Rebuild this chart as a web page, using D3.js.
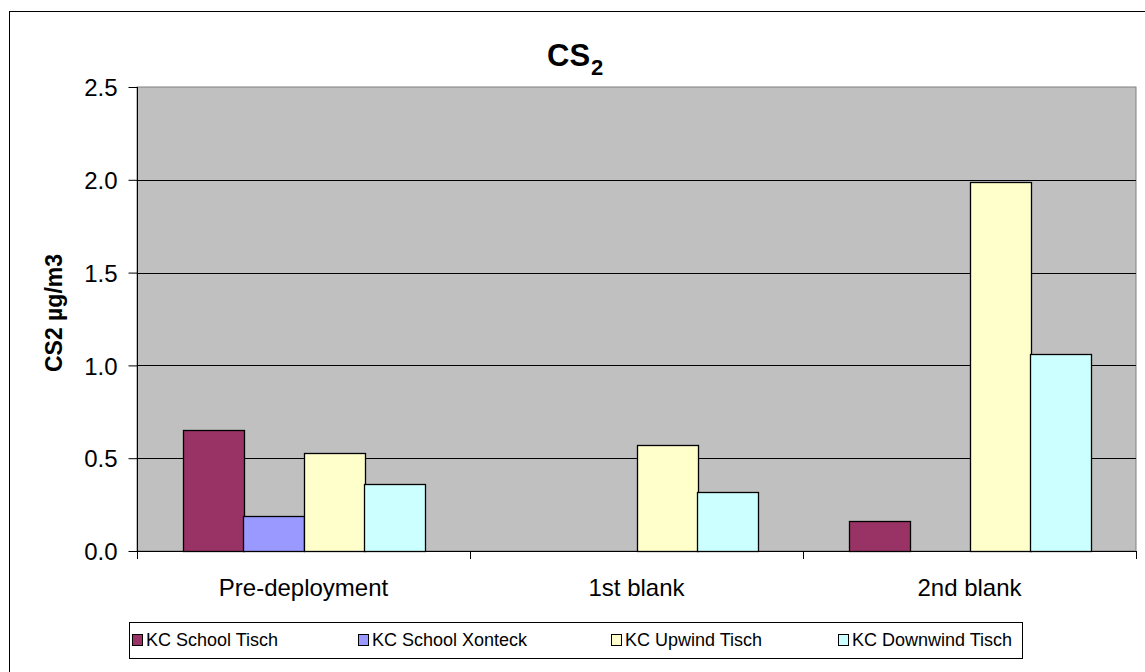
<!DOCTYPE html>
<html><head><meta charset="utf-8">
<script src="https://cdn.jsdelivr.net/npm/d3@7"></script>
<style>body{margin:0;background:#fff}svg{display:block;font-family:Arial,"Liberation Sans",sans-serif}</style>
</head><body><svg id="c" width="1145" height="672"></svg>
<script>
const categories = ["Pre-deployment", "1st blank", "2nd blank"];
const seriesNames = ["KC School Tisch", "KC School Xonteck", "KC Upwind Tisch", "KC Downwind Tisch"];
const seriesColors = ["#993366", "#9999FF", "#FFFFCC", "#CCFFFF"];
const schoolTisch = [0.65, null, 0.16];
const schoolXonteck = [0.19, null, null];
const upwindTisch = [0.53, 0.57, 1.99];
const downwindTisch = [0.36, 0.32, 1.06];
const yTicks = [0, 0.5, 1.0, 1.5, 2.0, 2.5];
const seriesValues = [schoolTisch, schoolXonteck, upwindTisch, downwindTisch];

const FONT = "Arial, 'Liberation Sans', sans-serif";
const svg = d3.select("#c");
const L = 137, R = 1136, T = 87, B = 551;

svg.append("rect").attr("x", 9.5).attr("y", 11.5).attr("width", 1145).attr("height", 672)
  .attr("fill", "#fff").attr("stroke", "#000").attr("stroke-width", 1);

svg.append("rect").attr("x", L).attr("y", T).attr("width", R - L).attr("height", B - T)
  .attr("fill", "#C0C0C0").attr("stroke", "#808080").attr("stroke-width", 1);

const x0 = d3.scaleBand().domain(categories).range([L, R]).padding(0);
const gapFrac = 91 / 333;
const x1 = d3.scaleBand().domain(seriesNames)
  .range([x0.bandwidth() * gapFrac / 2, x0.bandwidth() * (1 - gapFrac / 2)]).padding(0);
const y = d3.scaleLinear().domain([0, 2.5]).range([B, T]);

// gridlines
svg.append("g").selectAll("line").data(yTicks.filter(d => d > 0 && d < 2.5)).join("line")
  .attr("x1", L).attr("x2", R)
  .attr("y1", d => Math.round(y(d)) + 0.5).attr("y2", d => Math.round(y(d)) + 0.5)
  .attr("stroke", "#000").attr("stroke-width", 1);

// bars
seriesNames.forEach((s, si) => {
  svg.append("g").selectAll("rect")
    .data(categories.map((c, ci) => ({c, v: seriesValues[si][ci]})).filter(d => d.v != null))
    .join("rect")
    .attr("x", d => Math.round(x0(d.c) + x1(s)) + 0.5)
    .attr("y", d => Math.round(y(d.v)) + 0.5)
    .attr("width", Math.round(x1.bandwidth()))
    .attr("height", d => Math.round(B - y(d.v)))
    .attr("fill", seriesColors[si]).attr("stroke", "#000").attr("stroke-width", 1.3);
});

// y axis
const yAxis = d3.axisLeft(y).tickValues(yTicks).tickFormat(d3.format(".1f")).tickSize(9).tickPadding(11);
const ga = svg.append("g").attr("transform", `translate(${L + 0.5},0)`).call(yAxis);
ga.attr("font-size", null).attr("font-family", null);
ga.select(".domain").attr("stroke", "#000").attr("d", `M0,${T}V${B}`);
ga.selectAll(".tick line").attr("stroke", "#000");
ga.selectAll("text").style("font-size", "24px").attr("fill", "#000").style("font-family", FONT).attr("dy", "0.36em");

// x axis
const xAxis = d3.axisBottom(x0).tickSize(0).tickPadding(0);
const gx = svg.append("g").attr("transform", `translate(0,${B + 0.5})`).call(xAxis);
gx.attr("font-size", null).attr("font-family", null);
gx.select(".domain").attr("stroke", "#000").attr("d", `M${L},0H${R}`);
gx.selectAll("text").style("font-size", "24px").attr("fill", "#000").style("font-family", FONT)
  .attr("y", 44).attr("dy", null);
const bounds = [L, ...categories.map(c => x0(c) + x0.bandwidth())];
svg.append("g").selectAll("line").data(bounds).join("line")
  .attr("x1", d => Math.round(d) + 0.5).attr("x2", d => Math.round(d) + 0.5)
  .attr("y1", B).attr("y2", B + 8).attr("stroke", "#000");

// title
const tt = svg.append("text").attr("x", 547).attr("y", 66)
  .style("font-size", "31px").attr("font-weight", "bold").style("font-family", FONT);
tt.append("tspan").text("CS");
tt.append("tspan").style("font-size", "22px").attr("dx", 1).attr("dy", 9).text("2");

// y axis title
svg.append("text").attr("transform", `translate(62,${(T + B) / 2 - 6}) rotate(-90)`)
  .attr("text-anchor", "middle").style("font-size", "23px").attr("font-weight", "bold")
  .style("font-family", FONT).text("CS2 µg/m3");

// legend
svg.append("rect").attr("x", 129.5).attr("y", 622.5).attr("width", 893).attr("height", 36)
  .attr("fill", "#fff").attr("stroke", "#000");
const legMarkX = [132, 358, 611, 838];
const lg = svg.append("g").selectAll("g").data(seriesNames).join("g")
  .attr("transform", (d, i) => `translate(${legMarkX[i]},640)`);
lg.append("rect").attr("x", 0.5).attr("y", -5.5).attr("width", 10).attr("height", 11)
  .attr("fill", (d, i) => seriesColors[i]).attr("stroke", "#000").attr("stroke-width", 1);
lg.append("text").attr("x", 14).attr("y", 0).attr("dy", "0.36em")
  .style("font-size", "18px").style("font-family", FONT).text(d => d);
</script>
</body></html>
